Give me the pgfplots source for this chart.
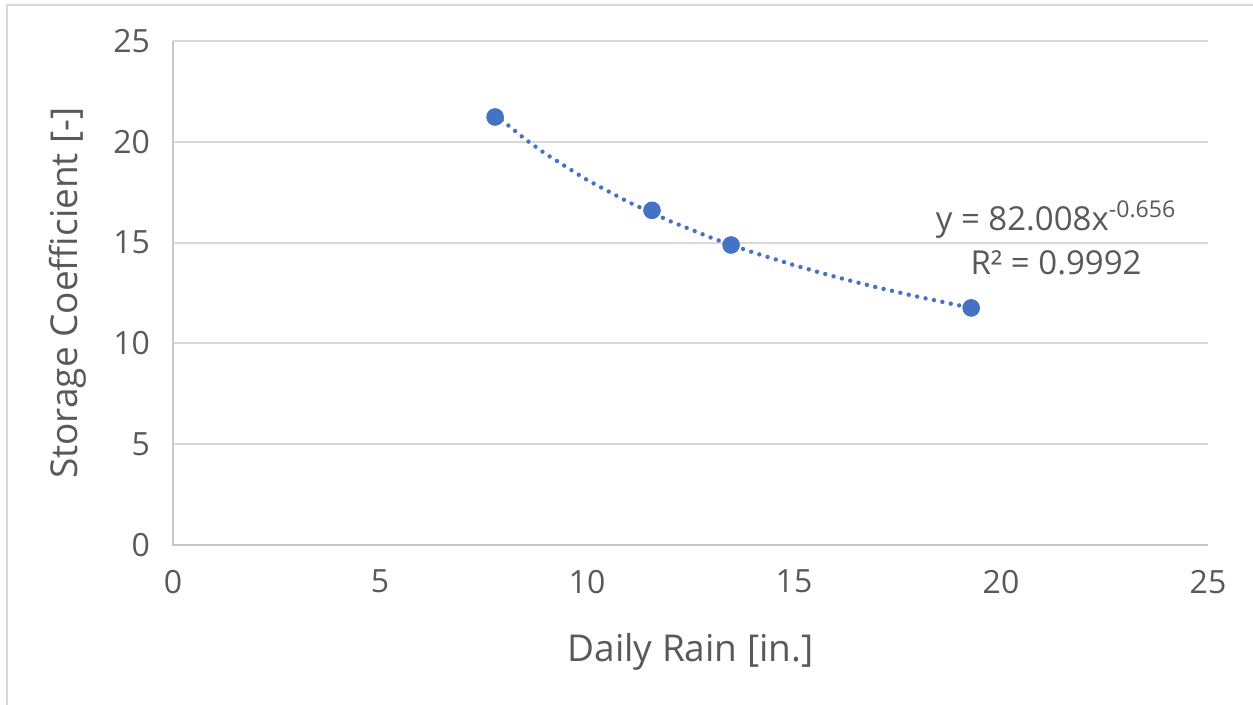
\documentclass[border=0pt]{standalone}
\usepackage{fontspec}
\setmainfont{Open Sans}
\usepackage{pgfplots}
\pgfplotsset{compat=1.18}

\definecolor{txt}{HTML}{595959}
\definecolor{gridc}{HTML}{D9D9D9}
\definecolor{axc}{HTML}{C8C8C8}
\definecolor{ptblue}{HTML}{4472C4}

\begin{document}
\begin{tikzpicture}
\begin{axis}[
    at={(0pt,0pt)}, anchor=origin,
    scale only axis,
    width=517.5pt, height=252pt,
    xmin=0, xmax=25, ymin=0, ymax=25,
    xtick={0,5,...,25}, ytick={0,5,...,25},
    major tick length=0pt,
    axis line style={draw=none},
    ymajorgrids,
    grid style={gridc, line width=1pt},
    ticklabel style={font=\fontsize{16}{19}\selectfont, text=txt},
    /pgf/number format/assume math mode=true,
    xticklabel style={yshift=-9pt},
    yticklabel style={xshift=-8pt},
    xlabel={Daily Rain [in.]},
    ylabel={Storage Coefficient [-]},
    label style={font=\fontsize{18.5}{22}\selectfont, text=txt},
    xlabel style={at={(axis description cs:0.5,0)}, anchor=center, yshift=-53.5pt},
    ylabel style={at={(axis description cs:0,0.5)}, anchor=center, rotate=0, yshift=52.5pt},
    clip=false,
]
% axis lines (left and bottom)
\draw[axc, line width=1pt] (axis cs:0,25) -- (axis cs:0,0) -- (axis cs:25,0);

% power trendline, values
\addplot[ptblue, line width=2.2pt, line cap=round, dash pattern=on 0pt off 4.3pt] coordinates {
    (7.78,21.35) (8.5,20.14) (9,19.40) (10,18.11) (11,17.01) (12,16.07)
    (13,15.24) (14,14.52) (15,13.88) (16,13.30) (17,12.78) (18,12.31)
    (19,11.88) (19.28,11.77)
};

% observed points
\addplot[only marks, mark=*, mark size=4.2pt, mark options={fill=ptblue, draw=ptblue}] coordinates {
    (7.78,21.23)
    (11.57,16.60)
    (13.48,14.88)
    (19.28,11.76)
};

\node[font=\fontsize{16.5}{22}\selectfont, text=txt, align=center] at (axis cs:21.33,15.23)
    {y = 82.008x\textsuperscript{-0.656}\\R² = 0.9992};
\end{axis}
% outer chart frame (only left and top edges visible)
\draw[gridc, line width=1.2pt] (-83pt,-80pt) -- (-83pt,270pt) -- (540pt,270pt);
\pgfresetboundingbox
\useasboundingbox (-86.5pt,-80pt) rectangle (540pt,272.5pt);
\end{tikzpicture}
\end{document}
